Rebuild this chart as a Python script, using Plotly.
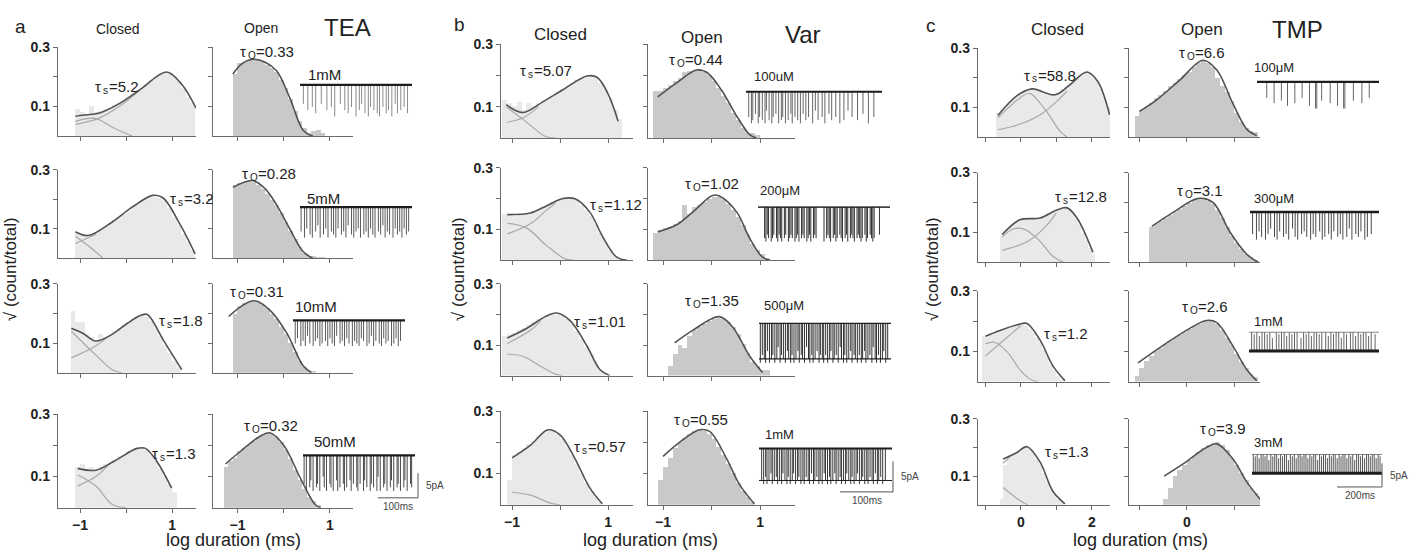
import plotly.graph_objects as go

# ============================ DATA ============================
BIN = 0.1  # histogram bin width (log10 ms)

# ---------- Panel a : TEA ----------
TEA_CONC = ["1mM", "5mM", "10mM", "50mM"]
TEA_TAU_S = ["5.2", "3.2", "1.8", "1.3"]
TEA_TAU_O = ["0.33", "0.28", "0.31", "0.32"]

TEA1_C_START = -1.1
TEA1_C_BARS = [0.09, 0.08, 0.075, 0.1, 0.08, 0.085, 0.09, 0.095, 0.105, 0.11, 0.12, 0.13, 0.14, 0.15, 0.16, 0.175,
               0.19, 0.2, 0.21, 0.215, 0.21, 0.2, 0.185, 0.16, 0.13, 0.11]
TEA1_C_FIT_X = [-1.1, -1.0, -0.6, -0.15, 0.3, 0.88, 1.2, 1.52]
TEA1_C_FIT_Y = [0.067, 0.07, 0.077, 0.11, 0.157, 0.217, 0.177, 0.095]
TEA1_C_FAST_X = [-1.1, -0.67, -0.3, 0.13]
TEA1_C_FAST_Y = [0.05, 0.06, 0.03, 0.0]
TEA1_C_SLOW_X = [-1.1, -0.6, -0.15, 0.3]
TEA1_C_SLOW_Y = [0.04, 0.06, 0.1, 0.155]
TEA1_O_START = -1.1
TEA1_O_BARS = [0.21, 0.245, 0.25, 0.255, 0.26, 0.255, 0.25, 0.24, 0.23, 0.215, 0.19, 0.16, 0.125, 0.085, 0.05, 0.025,
               0.01, 0.015, 0.02, 0.01]
TEA1_O_FIT_X = [-1.1, -0.9, -0.67, -0.4, -0.15, 0.13, 0.42, 0.63]
TEA1_O_FIT_Y = [0.21, 0.245, 0.26, 0.25, 0.22, 0.13, 0.02, 0.0]

TEA2_C_START = -1.1
TEA2_C_BARS = [0.09, 0.08, 0.075, 0.08, 0.09, 0.1, 0.11, 0.12, 0.13, 0.14, 0.15, 0.16, 0.175, 0.185, 0.195, 0.205,
               0.21, 0.21, 0.205, 0.195, 0.17, 0.14, 0.115, 0.085, 0.055, 0.03]
TEA2_C_FIT_X = [-1.1, -0.82, -0.3, 0.13, 0.58, 0.8, 1.18, 1.5]
TEA2_C_FIT_Y = [0.09, 0.077, 0.123, 0.173, 0.213, 0.205, 0.113, 0.015]
TEA2_C_FAST_X = [-1.1, -0.8, -0.5]
TEA2_C_FAST_Y = [0.075, 0.04, 0.0]
TEA2_C_SLOW_X = [-1.1, -0.85, -0.65]
TEA2_C_SLOW_Y = [0.05, 0.068, 0.082]
TEA2_O_START = -1.1
TEA2_O_BARS = [0.25, 0.255, 0.26, 0.265, 0.26, 0.25, 0.235, 0.22, 0.2, 0.18, 0.155, 0.125, 0.095, 0.065, 0.04, 0.02,
               0.01, 0.01, 0.005, 0.005]
TEA2_O_FIT_X = [-1.1, -0.67, -0.4, -0.15, 0.13, 0.42, 0.63]
TEA2_O_FIT_Y = [0.24, 0.263, 0.235, 0.18, 0.1, 0.023, 0.0]

TEA3_C_START = -1.2
TEA3_C_BARS = [0.21, 0.17, 0.17, 0.13, 0.12, 0.11, 0.13, 0.12, 0.13, 0.14, 0.15, 0.16, 0.17, 0.18, 0.19, 0.195, 0.19,
               0.175, 0.15, 0.125, 0.095, 0.065, 0.04, 0.02]
TEA3_C_FIT_X = [-1.19, -0.94, -0.66, -0.33, 0.03, 0.31, 0.46, 0.81, 1.21]
TEA3_C_FIT_Y = [0.15, 0.133, 0.107, 0.127, 0.167, 0.193, 0.197, 0.11, 0.01]
TEA3_C_FAST_X = [-1.19, -0.66, -0.3, -0.1]
TEA3_C_FAST_Y = [0.14, 0.06, 0.01, 0.0]
TEA3_C_SLOW_X = [-1.19, -0.66, -0.45]
TEA3_C_SLOW_Y = [0.05, 0.09, 0.115]
TEA3_O_START = -1.1
TEA3_O_BARS = [0.2, 0.225, 0.235, 0.24, 0.24, 0.24, 0.23, 0.22, 0.2, 0.18, 0.155, 0.13, 0.1, 0.07, 0.04, 0.02, 0.01,
               0.005]
TEA3_O_FIT_X = [-1.19, -0.65, -0.29, 0.07, 0.42, 0.6]
TEA3_O_FIT_Y = [0.19, 0.243, 0.21, 0.133, 0.023, 0.0]

TEA4_C_START = -1.1
TEA4_C_BARS = [0.13, 0.14, 0.125, 0.13, 0.12, 0.13, 0.14, 0.145, 0.155, 0.165, 0.17, 0.18, 0.185, 0.19, 0.19, 0.185,
               0.17, 0.15, 0.125, 0.1, 0.075, 0.05]
TEA4_C_FIT_X = [-1.05, -0.66, -0.27, 0.24, 0.42, 0.67, 0.99]
TEA4_C_FIT_Y = [0.126, 0.12, 0.148, 0.19, 0.19, 0.148, 0.063]
TEA4_C_FAST_X = [-1.05, -0.66, -0.3, 0.0]
TEA4_C_FAST_Y = [0.105, 0.07, 0.01, 0.0]
TEA4_C_SLOW_X = [-1.05, -0.66, -0.4]
TEA4_C_SLOW_Y = [0.07, 0.1, 0.135]
TEA4_O_START = -1.3
TEA4_O_BARS = [0.13, 0.15, 0.16, 0.18, 0.19, 0.2, 0.215, 0.225, 0.235, 0.24, 0.235, 0.225, 0.21, 0.185, 0.155, 0.12,
               0.09, 0.06, 0.035, 0.02, 0.01]
TEA4_O_FIT_X = [-1.26, -0.94, -0.55, -0.3, 0.0, 0.36, 0.68, 0.8]
TEA4_O_FIT_Y = [0.14, 0.18, 0.225, 0.24, 0.2, 0.095, 0.01, 0.0]

# ---------- Panel b : Var ----------
VAR_CONC = ["100uM", "200μM", "500μM", "1mM"]
VAR_TAU_S = ["5.07", "1.12", "1.01", "0.57"]
VAR_TAU_O = ["0.44", "1.02", "1.35", "0.55"]

VAR1_C_START = -1.2
VAR1_C_BARS = [0.12, 0.11, 0.1, 0.115, 0.09, 0.11, 0.1, 0.11, 0.12, 0.125, 0.135, 0.145, 0.155, 0.165, 0.175, 0.185,
               0.19, 0.195, 0.195, 0.19, 0.175, 0.155, 0.125, 0.09, 0.06]
VAR1_C_FIT_X = [-1.12, -0.77, -0.35, 0.06, 0.56, 0.77, 1.0, 1.21]
VAR1_C_FIT_Y = [0.107, 0.082, 0.117, 0.155, 0.199, 0.195, 0.142, 0.054]
VAR1_C_FAST_X = [-1.12, -0.77, -0.3, -0.1]
VAR1_C_FAST_Y = [0.1, 0.06, 0.005, 0.0]
VAR1_C_SLOW_X = [-1.12, -0.77, -0.45]
VAR1_C_SLOW_Y = [0.05, 0.065, 0.1]
VAR1_O_START = -1.2
VAR1_O_BARS = [0.15, 0.15, 0.16, 0.17, 0.18, 0.19, 0.21, 0.215, 0.215, 0.22, 0.21, 0.2, 0.18, 0.16, 0.135, 0.11, 0.08,
               0.055, 0.03, 0.015, 0.015, 0.01]
VAR1_O_FIT_X = [-1.11, -0.72, -0.31, -0.1, 0.2, 0.52, 0.78, 0.92]
VAR1_O_FIT_Y = [0.132, 0.177, 0.218, 0.211, 0.155, 0.07, 0.012, 0.0]

VAR2_C_START = -1.2
VAR2_C_BARS = [0.15, 0.15, 0.145, 0.15, 0.15, 0.155, 0.16, 0.165, 0.175, 0.18, 0.19, 0.195, 0.2, 0.2, 0.2, 0.195,
               0.18, 0.165, 0.145, 0.12, 0.09, 0.06, 0.035, 0.015]
VAR2_C_FIT_X = [-1.1, -0.62, -0.35, 0.06, 0.31, 0.62, 0.9, 1.18, 1.4]
VAR2_C_FIT_Y = [0.148, 0.153, 0.171, 0.2, 0.199, 0.156, 0.073, 0.01, 0.0]
VAR2_C_FAST_X = [-1.1, -0.7, -0.3, 0.1, 0.3]
VAR2_C_FAST_Y = [0.12, 0.105, 0.05, 0.005, 0.0]
VAR2_C_SLOW_X = [-1.1, -0.6, -0.3, -0.1]
VAR2_C_SLOW_Y = [0.085, 0.12, 0.16, 0.185]
VAR2_O_START = -1.2
VAR2_O_BARS = [0.09, 0.1, 0.105, 0.11, 0.12, 0.13, 0.18, 0.15, 0.175, 0.18, 0.19, 0.2, 0.205, 0.205, 0.2, 0.185,
               0.165, 0.14, 0.115, 0.085, 0.055, 0.035, 0.02, 0.01]
VAR2_O_FIT_X = [-1.11, -0.72, -0.39, 0.02, 0.16, 0.52, 0.78, 1.05, 1.2]
VAR2_O_FIT_Y = [0.092, 0.115, 0.156, 0.21, 0.208, 0.156, 0.073, 0.01, 0.0]

VAR3_C_START = -1.2
VAR3_C_BARS = [0.13, 0.135, 0.14, 0.15, 0.155, 0.165, 0.175, 0.185, 0.19, 0.2, 0.2, 0.2, 0.195, 0.185, 0.17, 0.145,
               0.12, 0.095, 0.07, 0.04, 0.02, 0.01]
VAR3_C_FIT_X = [-1.1, -0.69, -0.31, -0.07, 0.21, 0.56, 0.83, 1.04]
VAR3_C_FIT_Y = [0.123, 0.155, 0.193, 0.205, 0.18, 0.097, 0.02, 0.0]
VAR3_C_FAST_X = [-1.1, -0.8, -0.4, -0.1, 0.05]
VAR3_C_FAST_Y = [0.07, 0.065, 0.03, 0.005, 0.0]
VAR3_C_SLOW_X = [-1.1, -0.6, -0.4]
VAR3_C_SLOW_Y = [0.105, 0.15, 0.18]
VAR3_O_START = -0.9
VAR3_O_BARS = [0.03, 0.07, 0.1, 0.09, 0.13, 0.15, 0.16, 0.17, 0.18, 0.185, 0.19, 0.185, 0.175, 0.16, 0.135, 0.105,
               0.075, 0.045, 0.03, 0.02, 0.02]
VAR3_O_FIT_X = [-0.76, -0.39, 0.16, 0.43, 0.78, 1.05]
VAR3_O_FIT_Y = [0.107, 0.148, 0.193, 0.16, 0.065, 0.01]

VAR4_C_START = -1.1
VAR4_C_BARS = [0.08, 0.16, 0.17, 0.18, 0.195, 0.205, 0.22, 0.23, 0.235, 0.235, 0.225, 0.21, 0.185, 0.16, 0.13, 0.1,
               0.07, 0.045, 0.025, 0.01]
VAR4_C_FIT_X = [-1.0, -0.62, -0.25, 0.0, 0.31, 0.62, 0.88]
VAR4_C_FIT_Y = [0.15, 0.19, 0.24, 0.224, 0.148, 0.054, 0.003]
VAR4_C_FAST_X = [-1.0, -0.6, -0.2, 0.0]
VAR4_C_FAST_Y = [0.04, 0.03, 0.005, 0.0]
VAR4_O_START = -1.1
VAR4_O_BARS = [0.08, 0.12, 0.15, 0.18, 0.2, 0.215, 0.225, 0.235, 0.24, 0.235, 0.225, 0.21, 0.185, 0.16, 0.13, 0.1,
               0.07, 0.045, 0.025, 0.01]
VAR4_O_FIT_X = [-1.0, -0.66, -0.25, -0.04, 0.31, 0.57, 0.88]
VAR4_O_FIT_Y = [0.155, 0.2, 0.24, 0.235, 0.148, 0.066, 0.003]

# ---------- Panel c : TMP ----------
TMP_CONC = ["100μM", "300μM", "1mM", "3mM"]
TMP_TAU_S = ["58.8", "12.8", "1.2", "1.3"]
TMP_TAU_O = ["6.6", "3.1", "2.6", "3.9"]

TMP1_C_START = -0.7
TMP1_C_BARS = [0.08, 0.09, 0.1, 0.11, 0.125, 0.135, 0.145, 0.15, 0.155, 0.16, 0.16, 0.155, 0.15, 0.145, 0.14, 0.14,
               0.145, 0.15, 0.16, 0.17, 0.18, 0.19, 0.2, 0.21, 0.215, 0.22, 0.215, 0.205, 0.19, 0.16, 0.13, 0.1]
TMP1_C_FIT_X = [-0.65, -0.11, 0.31, 0.96, 1.38, 1.86, 2.17, 2.5]
TMP1_C_FIT_Y = [0.073, 0.14, 0.163, 0.143, 0.177, 0.22, 0.187, 0.075]
TMP1_C_FAST_X = [-0.65, 0.0, 0.25, 0.7, 1.1, 1.3]
TMP1_C_FAST_Y = [0.065, 0.135, 0.148, 0.09, 0.02, 0.0]
TMP1_C_SLOW_X = [-0.65, 0.0, 0.6, 1.0, 1.3]
TMP1_C_SLOW_Y = [0.025, 0.045, 0.08, 0.12, 0.155]
TMP1_O_START = -1.1
TMP1_O_BARS = [0.07, 0.09, 0.1, 0.115, 0.13, 0.14, 0.155, 0.17, 0.18, 0.195, 0.21, 0.22, 0.235, 0.25, 0.255, 0.25,
               0.235, 0.2, 0.17, 0.15, 0.12, 0.08, 0.05, 0.03, 0.02, 0.015]
TMP1_O_FIT_X = [-1.0, -0.63, -0.15, 0.34, 0.63, 0.97, 1.26, 1.47]
TMP1_O_FIT_Y = [0.087, 0.127, 0.193, 0.26, 0.227, 0.113, 0.027, 0.005]

TMP2_C_START = -0.6
TMP2_C_BARS = [0.09, 0.105, 0.115, 0.125, 0.135, 0.14, 0.145, 0.145, 0.145, 0.145, 0.145, 0.15, 0.155, 0.16, 0.165,
               0.17, 0.175, 0.18, 0.18, 0.175, 0.165, 0.15, 0.13, 0.1, 0.075, 0.05, 0.03]
TMP2_C_FIT_X = [-0.53, -0.03, 0.54, 1.01, 1.3, 1.58, 2.03]
TMP2_C_FIT_Y = [0.092, 0.142, 0.148, 0.175, 0.182, 0.148, 0.033]
TMP2_C_FAST_X = [-0.53, -0.2, 0.1, 0.5, 0.9, 1.2]
TMP2_C_FAST_Y = [0.085, 0.112, 0.11, 0.075, 0.02, 0.0]
TMP2_C_SLOW_X = [-0.53, 0.2, 0.7, 1.0]
TMP2_C_SLOW_Y = [0.04, 0.07, 0.12, 0.165]
TMP2_O_START = -0.8
TMP2_O_BARS = [0.12, 0.13, 0.14, 0.15, 0.16, 0.17, 0.18, 0.19, 0.2, 0.21, 0.21, 0.21, 0.205, 0.195, 0.175, 0.15, 0.12,
               0.09, 0.065, 0.045, 0.03, 0.02, 0.01]
TMP2_O_FIT_X = [-0.74, -0.29, 0.23, 0.55, 0.9, 1.26, 1.5]
TMP2_O_FIT_Y = [0.12, 0.167, 0.213, 0.2, 0.103, 0.027, 0.0]

TMP3_C_START = -1.1
TMP3_C_BARS = [0.15, 0.155, 0.16, 0.165, 0.17, 0.17, 0.175, 0.18, 0.185, 0.19, 0.19, 0.19, 0.185, 0.175, 0.16, 0.145,
               0.13, 0.105, 0.08, 0.055, 0.035, 0.02, 0.01]
TMP3_C_FIT_X = [-1.0, -0.59, -0.03, 0.17, 0.54, 0.9, 1.24]
TMP3_C_FIT_Y = [0.15, 0.169, 0.19, 0.192, 0.137, 0.052, 0.003]
TMP3_C_FAST_X = [-1.0, -0.75, -0.4, 0.0, 0.3, 0.5]
TMP3_C_FAST_Y = [0.125, 0.13, 0.1, 0.035, 0.005, 0.0]
TMP3_C_SLOW_X = [-1.0, -0.6, -0.2, 0.0]
TMP3_C_SLOW_Y = [0.085, 0.125, 0.165, 0.185]
TMP3_O_START = -1.1
TMP3_O_BARS = [0.02, 0.045, 0.07, 0.085, 0.1, 0.11, 0.125, 0.135, 0.145, 0.155, 0.165, 0.175, 0.185, 0.19, 0.2, 0.2,
               0.2, 0.19, 0.17, 0.145, 0.12, 0.09, 0.065, 0.045, 0.025, 0.015]
TMP3_O_FIT_X = [-1.03, -0.43, 0.06, 0.41, 0.63, 0.97, 1.26, 1.47]
TMP3_O_FIT_Y = [0.062, 0.127, 0.176, 0.202, 0.195, 0.117, 0.04, 0.003]

TMP4_C_START = -0.6
TMP4_C_BARS = [0.02, 0.14, 0.165, 0.175, 0.18, 0.19, 0.2, 0.2, 0.195, 0.18, 0.16, 0.14, 0.11, 0.08, 0.055, 0.035,
               0.02, 0.01]
TMP4_C_FIT_X = [-0.5, -0.11, 0.17, 0.54, 0.9, 1.24]
TMP4_C_FIT_Y = [0.16, 0.183, 0.203, 0.149, 0.047, 0.003]
TMP4_C_FAST_X = [-0.5, -0.2, 0.1, 0.2]
TMP4_C_FAST_Y = [0.06, 0.03, 0.005, 0.0]
TMP4_C_SLOW_X = [-0.5, -0.3]
TMP4_C_SLOW_Y = [0.145, 0.17]
TMP4_O_START = -0.5
TMP4_O_BARS = [0.02, 0.06, 0.1, 0.12, 0.14, 0.155, 0.17, 0.185, 0.2, 0.21, 0.215, 0.22, 0.21, 0.19, 0.165, 0.14, 0.11,
               0.085, 0.06, 0.04, 0.025]
TMP4_O_FIT_X = [-0.48, -0.08, 0.41, 0.63, 0.97, 1.26, 1.54]
TMP4_O_FIT_Y = [0.1, 0.143, 0.2, 0.213, 0.16, 0.08, 0.02]

# ---------- single-channel records: event times (% of record) and level reached (0 = top, 10 = bottom) ----------
TEA1_EV_T = [3, 7, 11, 14, 19, 24, 28, 31, 36, 40, 43, 46, 50, 53, 55, 58, 61, 63, 66, 69, 71, 74, 77, 79, 82, 85, 87,
             90, 93, 96]
TEA1_EV_L = [6, 8, 7, 9, 6, 8, 7, 10, 6, 8, 9, 7, 10, 8, 6, 9, 10, 7, 8, 9, 10, 7, 9, 8, 10, 6, 9, 8, 7, 9]
TEA2_EV_T = [1, 4, 6, 9, 11, 14, 16, 18, 21, 23, 25, 28, 30, 32, 34, 37, 39, 41, 43, 46, 48, 50, 52, 54, 57, 59, 61,
             63, 65, 67, 70, 72, 74, 76, 78, 80, 83, 85, 87, 89, 91, 93, 95, 97]
TEA2_EV_L = [8, 10, 7, 9, 10, 8, 6, 10, 9, 7, 10, 8, 9, 10, 7, 9, 8, 10, 6, 9, 10, 8, 7, 10, 9, 8, 10, 7, 9, 10, 8, 9,
             6, 10, 8, 9, 10, 7, 9, 8, 10, 7, 9, 8]
TEA3_EV_T = [2, 4, 7, 9, 11, 13, 15, 18, 20, 22, 24, 26, 29, 31, 33, 35, 37, 39, 42, 44, 46, 48, 50, 53, 55, 57, 59,
             61, 63, 66, 68, 70, 72, 74, 77, 79, 81, 83, 85, 88, 90, 92, 94, 96]
TEA3_EV_L = [9, 7, 10, 8, 10, 6, 9, 10, 8, 7, 10, 9, 8, 10, 7, 9, 10, 6, 9, 8, 10, 7, 9, 10, 8, 9, 10, 7, 8, 10, 9, 6,
             10, 8, 9, 10, 7, 9, 8, 10, 9, 7, 10, 8]
TEA4_EV_T = [1, 3, 6, 7, 9, 12, 13, 15, 18, 19, 21, 24, 25, 27, 30, 31, 33, 36, 37, 39, 42, 43, 45, 48, 49, 51, 54,
             55, 57, 60, 61, 63, 66, 67, 69, 72, 73, 75, 78, 79, 81, 84, 85, 87, 90, 91, 93, 96, 97]
TEA4_EV_L = [8, 10, 9, 7, 10, 9, 8, 10, 6, 9, 10, 8, 9, 10, 7, 10, 9, 8, 10, 9, 7, 10, 8, 9, 10, 8, 10, 7, 9, 10, 8,
             9, 10, 6, 10, 9, 8, 10, 9, 7, 10, 9, 8, 10, 9, 7, 10, 8, 9]
VAR1_EV_T = [2, 4, 5, 7, 9, 10, 12, 14, 15, 17, 19, 20, 22, 24, 26, 27, 29, 31, 33, 34, 36, 38, 40, 42, 44, 46, 49,
             51, 53, 56, 58, 61, 63, 66, 69, 72, 75, 78, 82, 86, 90, 94]
VAR1_EV_L = [8, 10, 9, 7, 10, 8, 9, 10, 6, 9, 10, 8, 7, 10, 9, 8, 10, 9, 7, 10, 8, 9, 10, 7, 9, 8, 10, 6, 9, 8, 10, 7,
             9, 8, 10, 9, 6, 8, 9, 7, 10, 8]
VAR2_EV_T = [5, 6, 7, 8, 10, 11, 12, 14, 15, 16, 17, 18, 20, 21, 23, 24, 25, 26, 28, 29, 30, 31, 33, 34, 35, 37, 38,
             39, 40, 42, 43, 44, 50, 52, 53, 54, 55, 57, 58, 59, 60, 62, 63, 64, 66, 67, 68, 70, 71, 72, 73, 75, 76,
             77, 78, 79, 81, 82, 83, 85, 86, 87, 88, 92]
VAR2_EV_L = [9, 10, 8, 9, 10, 9, 8, 9, 10, 8, 9, 10, 9, 8, 10, 9, 8, 9, 10, 9, 8, 10, 9, 8, 9, 10, 9, 8, 10, 9, 8, 9,
             10, 9, 8, 9, 10, 9, 8, 10, 9, 8, 9, 10, 9, 8, 10, 9, 8, 9, 10, 9, 8, 9, 10, 9, 8, 10, 9, 8, 9, 10, 9, 8]
VAR3_EV_T = [1, 2.5, 4, 5, 6.5, 8, 9.5, 10.5, 12, 13.5, 14.5, 16, 17, 18.5, 20, 21.5, 22.5, 24, 25, 26.5, 28, 29.5,
             30.5, 32, 33, 34.5, 36, 37.5, 38.5, 40, 41, 42.5, 44, 45.5, 46.5, 48, 49, 50.5, 52, 53.5, 54.5, 56, 57,
             58.5, 60, 61.5, 62.5, 64, 65, 66.5, 68, 69.5, 70.5, 72, 73, 74.5, 76, 77.5, 78.5, 80, 81, 82.5, 84, 85.5,
             86.5, 88, 89, 90.5, 92, 93.5, 94.5, 96, 97.5]
VAR3_EV_L = [10, 8, 9, 10, 7, 10, 9, 8, 10, 9, 6, 10, 8, 9, 10, 7, 9, 10, 8, 10, 9, 7, 10, 8, 9, 10, 6, 9, 10, 8, 10,
             9, 7, 10, 8, 9, 10, 8, 10, 9, 7, 10, 9, 8, 10, 6, 9, 10, 8, 10, 9, 7, 10, 8, 9, 10, 8, 10, 9, 7, 10, 9, 8,
             10, 6, 9, 10, 8, 10, 9, 7, 10, 9]
VAR4_EV_T = [2, 3.5, 5, 6, 7.5, 9, 10, 11.5, 13, 14, 15.5, 17, 18, 19.5, 21, 22, 23.5, 25, 26, 27.5, 29, 30, 31.5, 33,
             34, 35.5, 37, 38, 39.5, 41, 42, 43.5, 45, 46, 47.5, 49, 50, 51.5, 53, 54, 55.5, 57, 58, 59.5, 61, 62,
             63.5, 65, 66, 67.5, 69, 70, 71.5, 73, 74, 75.5, 77, 78, 79.5, 81, 82, 83.5, 85, 86, 87.5, 89, 90, 91.5,
             93, 95]
VAR4_EV_L = [9, 10, 8, 10, 9, 7, 10, 9, 8, 10, 9, 10, 7, 9, 10, 8, 10, 9, 7, 10, 9, 8, 10, 9, 10, 8, 9, 10, 7, 10, 9,
             8, 10, 9, 10, 7, 9, 10, 8, 10, 9, 7, 10, 9, 8, 10, 9, 10, 7, 9, 10, 8, 10, 9, 7, 10, 9, 8, 10, 9, 10, 8,
             9, 10, 7, 10, 9, 8, 10, 9]
TMP1_EV_T = [8, 14, 20, 25, 31, 37, 43, 48, 49, 53, 60, 66, 71, 72, 79, 86, 92]
TMP1_EV_L = [6, 8, 7, 9, 8, 6, 9, 10, 10, 7, 8, 9, 10, 10, 7, 8, 6]
TMP2_EV_T = [2, 5, 7, 9, 12, 14, 16, 19, 21, 23, 26, 28, 30, 33, 35, 37, 40, 42, 44, 47, 49, 51, 54, 56, 58, 61, 63,
             65, 68, 70, 72, 75, 77, 79, 82, 84, 86, 89, 91, 94]
TMP2_EV_L = [8, 10, 7, 9, 10, 8, 6, 9, 10, 7, 9, 8, 10, 6, 9, 10, 8, 7, 9, 10, 8, 9, 7, 10, 9, 8, 10, 7, 9, 8, 10, 9,
             6, 10, 8, 9, 7, 10, 9, 8]
TMP3_EV_T = [2, 4, 6, 8, 10, 12, 14, 16, 18, 21, 23, 25, 27, 29, 31, 33, 35, 37, 40, 42, 44, 46, 48, 50, 52, 54, 56,
             59, 61, 63, 65, 67, 69, 71, 73, 75, 78, 80, 82, 84, 86, 88, 90, 92, 94, 97]
TMP3_EV_L = [0, 1, 0, 2, 0, 0, 1, 0, 3, 0, 1, 0, 0, 2, 0, 1, 0, 0, 3, 0, 1, 0, 2, 0, 0, 1, 0, 0, 2, 0, 1, 0, 0, 3, 0,
             1, 0, 0, 2, 0, 1, 0, 0, 2, 0, 1]
TMP4_EV_T = [1, 2.5, 4, 5.5, 7, 8.5, 10, 11.5, 13, 14.5, 16, 17.5, 19, 20.5, 22, 23.5, 25, 26.5, 28, 29.5, 31, 32.5,
             34, 35.5, 37, 38.5, 40, 41.5, 43, 44.5, 46, 47.5, 49, 50.5, 52, 53.5, 55, 56.5, 58, 59.5, 61, 62.5, 64,
             65.5, 67, 68.5, 70, 71.5, 73, 74.5, 76, 77.5, 79, 80.5, 82, 83.5, 85, 86.5, 88, 89.5, 91, 92.5, 94, 95.5,
             97, 98.5]
TMP4_EV_L = [0, 1, 0, 2, 0, 0, 1, 0, 3, 0, 1, 0, 0, 2, 0, 1, 0, 0, 3, 0, 1, 0, 2, 0, 0, 1, 0, 0, 2, 0, 1, 0, 0, 3, 0,
             1, 0, 0, 2, 0, 1, 0, 0, 2, 0, 1, 0, 0, 2, 0, 1, 0, 3, 0, 0, 1, 0, 2, 0, 0, 1, 0, 0, 2, 0, 1]

# ============================ FIGURE ============================
W, H = 1419, 554
FONT = "Liberation Sans, Arial, Helvetica, sans-serif"
AXC = "#6a6a6a"
CLOSED_FILL = "#e9e9e9"
OPEN_FILL = "#c9c9c9"
FIT_C = "#525252"
COMP_C = "#a8a8a8"


def px(x):
    return x / W


def py(y):
    return 1 - y / H


fig = go.Figure()
layout = dict(width=W, height=H, autosize=False, margin=dict(l=0, r=0, t=0, b=0),
              paper_bgcolor="white", plot_bgcolor="rgba(0,0,0,0)", showlegend=False,
              font=dict(family=FONT, color="#222"), bargap=0)
annotations = []
shapes = []
counter = [0]


def new_axes():
    counter[0] += 1
    n = counter[0]
    s = "" if n == 1 else str(n)
    return "x" + s, "y" + s, "xaxis" + s, "yaxis" + s


def add_hist(geo, row_geo, major, minor, show_x, show_y, start, bars, fill, fits):
    x0px, x1px, xr = geo
    ytop, yzero = row_geo
    xa, ya, xk, yk = new_axes()
    common = dict(showline=True, linecolor=AXC, linewidth=1.3, ticks="outside", ticklen=4,
                  tickcolor=AXC, tickwidth=1, showgrid=False, zeroline=False, fixedrange=True,
                  tickfont=dict(size=14, color="#222", family=FONT, weight="bold"))
    layout[xk] = dict(domain=[px(x0px), px(x1px)], range=xr, anchor=ya, tickvals=major,
                      showticklabels=show_x,
                      minor=dict(tickvals=minor, ticks="outside", ticklen=4, tickcolor=AXC, showgrid=False),
                      **common)
    layout[yk] = dict(domain=[py(yzero), py(ytop)], range=[0, 0.3], anchor=xa, tickvals=[0.1, 0.3],
                      showticklabels=show_y,
                      minor=dict(tickvals=[0.2], ticks="outside", ticklen=4, tickcolor=AXC, showgrid=False),
                      **common)
    centers = [start + BIN * (i + 0.5) for i in range(len(bars))]
    fig.add_trace(go.Bar(x=centers, y=bars, width=BIN, marker=dict(color=fill, line=dict(width=0)),
                         xaxis=xa, yaxis=ya, hoverinfo="skip"))
    for fx, fy, col, w in fits:
        fig.add_trace(go.Scatter(x=fx, y=fy, mode="lines", xaxis=xa, yaxis=ya, hoverinfo="skip",
                                 line=dict(color=col, width=w, shape="spline", smoothing=1.0)))


def add_record(x0px, x1px, top_px, bot_px, ev_t, ev_l, base, rails, refline, ev_color):
    xa, ya, xk, yk = new_axes()
    ppu = (bot_px - top_px) / 10.0
    layout[xk] = dict(domain=[px(x0px), px(x1px)], range=[0, 100], visible=False,
                      anchor=ya, fixedrange=True)
    layout[yk] = dict(domain=[py(bot_px + 1.5 * ppu), py(top_px - 1.5 * ppu)], range=[-11.5, 1.5],
                      visible=False, anchor=xa, fixedrange=True)
    if refline:
        fig.add_trace(go.Scatter(x=[0, 100], y=[0, 0], mode="lines", xaxis=xa, yaxis=ya,
                                 line=dict(color="#666", width=0.8), hoverinfo="skip"))
    xs, ys = [], []
    for t, lv in zip(ev_t, ev_l):
        xs += [t, t, None]
        ys += [-base, -lv, None]
    fig.add_trace(go.Scatter(x=xs, y=ys, mode="lines", xaxis=xa, yaxis=ya,
                             line=dict(color=ev_color, width=1), hoverinfo="skip"))
    for lvl, w in rails:
        fig.add_trace(go.Scatter(x=[0, 100], y=[-lvl, -lvl], mode="lines", xaxis=xa, yaxis=ya,
                                 line=dict(color="#1c1c1c", width=w), hoverinfo="skip"))


def ann(text, x, y, size, xanchor="left", yanchor="middle", angle=0, color="#222", weight="normal"):
    annotations.append(dict(text=text, x=px(x), y=py(y), xref="paper", yref="paper", showarrow=False,
                            xanchor=xanchor, yanchor=yanchor, textangle=angle,
                            font=dict(size=size, color=color, family=FONT, weight=weight)))


def tau_label(sub, value, x, y):
    # "τ" + subscript + "=value", composed from three plain texts
    sub_w = 6 if sub == "s" else 8
    ann("τ", x, y, 15)
    ann(sub, x + 8, y + 4, 10)
    ann("=" + value, x + 8 + sub_w, y, 15)


# ---- geometry (pixels) ----
PANELS = {
    "a": dict(closed=(58, 196, [-1.48, 1.52]), open=(213, 353, [-1.53, 1.5]),
              rows=[(40, 130), (164, 254), (280, 370), (412, 507)],
              cticks=([-1, 1], [0]), oticks=([-1, 1], [0])),
    "b": dict(closed=(501, 633, [-1.23, 1.52]), open=(648, 795, [-1.31, 1.72]),
              rows=[(37, 132), (162, 256), (280, 373), (409, 504)],
              cticks=([-1, 1], [0]), oticks=([-1, 1], [0])),
    "c": dict(closed=(978, 1110, [-1.21, 2.51]), open=(1129, 1260, [-1.22, 1.54]),
              rows=[(41, 131), (167, 258), (287, 379), (417, 504)],
              cticks=([0, 2], [-1, 1]), oticks=([0], [-1, 1])),
}

HISTS = {
    "a": [
        (TEA1_C_START, TEA1_C_BARS, [(TEA1_C_FAST_X, TEA1_C_FAST_Y), (TEA1_C_SLOW_X, TEA1_C_SLOW_Y)], (TEA1_C_FIT_X, TEA1_C_FIT_Y),
         TEA1_O_START, TEA1_O_BARS, (TEA1_O_FIT_X, TEA1_O_FIT_Y)),
        (TEA2_C_START, TEA2_C_BARS, [(TEA2_C_FAST_X, TEA2_C_FAST_Y), (TEA2_C_SLOW_X, TEA2_C_SLOW_Y)], (TEA2_C_FIT_X, TEA2_C_FIT_Y),
         TEA2_O_START, TEA2_O_BARS, (TEA2_O_FIT_X, TEA2_O_FIT_Y)),
        (TEA3_C_START, TEA3_C_BARS, [(TEA3_C_FAST_X, TEA3_C_FAST_Y), (TEA3_C_SLOW_X, TEA3_C_SLOW_Y)], (TEA3_C_FIT_X, TEA3_C_FIT_Y),
         TEA3_O_START, TEA3_O_BARS, (TEA3_O_FIT_X, TEA3_O_FIT_Y)),
        (TEA4_C_START, TEA4_C_BARS, [(TEA4_C_FAST_X, TEA4_C_FAST_Y), (TEA4_C_SLOW_X, TEA4_C_SLOW_Y)], (TEA4_C_FIT_X, TEA4_C_FIT_Y),
         TEA4_O_START, TEA4_O_BARS, (TEA4_O_FIT_X, TEA4_O_FIT_Y)),
    ],
    "b": [
        (VAR1_C_START, VAR1_C_BARS, [(VAR1_C_FAST_X, VAR1_C_FAST_Y), (VAR1_C_SLOW_X, VAR1_C_SLOW_Y)], (VAR1_C_FIT_X, VAR1_C_FIT_Y),
         VAR1_O_START, VAR1_O_BARS, (VAR1_O_FIT_X, VAR1_O_FIT_Y)),
        (VAR2_C_START, VAR2_C_BARS, [(VAR2_C_FAST_X, VAR2_C_FAST_Y), (VAR2_C_SLOW_X, VAR2_C_SLOW_Y)], (VAR2_C_FIT_X, VAR2_C_FIT_Y),
         VAR2_O_START, VAR2_O_BARS, (VAR2_O_FIT_X, VAR2_O_FIT_Y)),
        (VAR3_C_START, VAR3_C_BARS, [(VAR3_C_FAST_X, VAR3_C_FAST_Y), (VAR3_C_SLOW_X, VAR3_C_SLOW_Y)], (VAR3_C_FIT_X, VAR3_C_FIT_Y),
         VAR3_O_START, VAR3_O_BARS, (VAR3_O_FIT_X, VAR3_O_FIT_Y)),
        (VAR4_C_START, VAR4_C_BARS, [(VAR4_C_FAST_X, VAR4_C_FAST_Y)], (VAR4_C_FIT_X, VAR4_C_FIT_Y),
         VAR4_O_START, VAR4_O_BARS, (VAR4_O_FIT_X, VAR4_O_FIT_Y)),
    ],
    "c": [
        (TMP1_C_START, TMP1_C_BARS, [(TMP1_C_FAST_X, TMP1_C_FAST_Y), (TMP1_C_SLOW_X, TMP1_C_SLOW_Y)], (TMP1_C_FIT_X, TMP1_C_FIT_Y),
         TMP1_O_START, TMP1_O_BARS, (TMP1_O_FIT_X, TMP1_O_FIT_Y)),
        (TMP2_C_START, TMP2_C_BARS, [(TMP2_C_FAST_X, TMP2_C_FAST_Y), (TMP2_C_SLOW_X, TMP2_C_SLOW_Y)], (TMP2_C_FIT_X, TMP2_C_FIT_Y),
         TMP2_O_START, TMP2_O_BARS, (TMP2_O_FIT_X, TMP2_O_FIT_Y)),
        (TMP3_C_START, TMP3_C_BARS, [(TMP3_C_FAST_X, TMP3_C_FAST_Y), (TMP3_C_SLOW_X, TMP3_C_SLOW_Y)], (TMP3_C_FIT_X, TMP3_C_FIT_Y),
         TMP3_O_START, TMP3_O_BARS, (TMP3_O_FIT_X, TMP3_O_FIT_Y)),
        (TMP4_C_START, TMP4_C_BARS, [(TMP4_C_FAST_X, TMP4_C_FAST_Y), (TMP4_C_SLOW_X, TMP4_C_SLOW_Y)], (TMP4_C_FIT_X, TMP4_C_FIT_Y),
         TMP4_O_START, TMP4_O_BARS, (TMP4_O_FIT_X, TMP4_O_FIT_Y)),
    ],
}

for key, P in PANELS.items():
    for r, (cs, cb, comps, cfit, os_, ob, ofit) in enumerate(HISTS[key]):
        last = r == 3
        fits_c = [(fx, fy, COMP_C, 1.2) for fx, fy in comps] + [(cfit[0], cfit[1], FIT_C, 1.6)]
        add_hist(P["closed"], P["rows"][r], P["cticks"][0], P["cticks"][1], last, True,
                 cs, cb, CLOSED_FILL, fits_c)
        add_hist(P["open"], P["rows"][r], P["oticks"][0], P["oticks"][1], last, False,
                 os_, ob, OPEN_FILL, [(ofit[0], ofit[1], FIT_C, 1.6)])

# ---- single-channel records: (x0, x1, top px, bottom px, times, levels, base level, rails, refline, colour)
REC_GEO = [
    (300, 412, 78, 110, TEA1_EV_T, TEA1_EV_L, 0, [(0, 2.2)], False, "#8a8a8a"),
    (300, 412, 202, 233, TEA2_EV_T, TEA2_EV_L, 0, [(0, 2.2)], False, "#5a5a5a"),
    (293, 405, 317, 343, TEA3_EV_T, TEA3_EV_L, 0, [(0, 2.2)], False, "#5a5a5a"),
    (303, 415, 454, 490, TEA4_EV_T, TEA4_EV_L, 0, [(0, 2.2)], False, "#4a4a4a"),
    (746, 882, 85, 117, VAR1_EV_T, VAR1_EV_L, 0, [(0, 2.0)], False, "#666666"),
    (758, 890, 202, 237, VAR2_EV_T, VAR2_EV_L, 0, [(0, 1.4)], True, "#333333"),
    (759, 891, 320, 360, VAR3_EV_T, VAR3_EV_L, 0, [(0, 1.4), (9, 1.2)], False, "#333333"),
    (759, 892, 447, 483, VAR4_EV_T, VAR4_EV_L, 0, [(0, 2.0), (9, 1.0)], False, "#3a3a3a"),
    (1257, 1379, 75, 102, TMP1_EV_T, TMP1_EV_L, 0, [(0, 2.4)], False, "#666666"),
    (1250, 1379, 207, 235, TMP2_EV_T, TMP2_EV_L, 0, [(0, 2.4)], False, "#4a4a4a"),
    (1249, 1379, 329, 348, TMP3_EV_T, TMP3_EV_L, 10, [(10, 3.0)], True, "#666666"),
    (1252, 1382, 453, 472, TMP4_EV_T, TMP4_EV_L, 10, [(10, 3.0)], True, "#555555"),
]
for g in REC_GEO:
    add_record(*g)

# ---- text ----
ann("a", 13, 19, 19)
ann("b", 452, 17, 19)
ann("c", 924, 18, 19)
ann("Closed", 118, 21, 14, xanchor="center")
ann("Open", 261, 20, 14, xanchor="center")
ann("TEA", 347, 20, 24, xanchor="center")
ann("Closed", 560, 27, 17, xanchor="center")
ann("Open", 702, 30, 17, xanchor="center")
ann("Var", 803, 27, 24, xanchor="center")
ann("Closed", 1057, 22, 17, xanchor="center")
ann("Open", 1202, 22, 17, xanchor="center")
ann("TMP", 1297, 22, 24, xanchor="center")

for xc in (10, 458, 932):
    ann("√ (count/total)", xc, 265, 17, xanchor="center", angle=-90)
for xc in (233, 650, 1140):
    ann("log duration (ms)", xc, 540, 18, xanchor="center")

TAU_S_POS = {"a": [(93, 80), (168, 193), (157, 317), (150, 452)],
             "b": [(518, 63), (588, 199), (572, 318), (572, 445)],
             "c": [(1022, 68), (1053, 191), (1042, 330), (1043, 450)]}
TAU_O_POS = {"a": [(238, 44), (240, 168), (228, 288), (242, 424)],
             "b": [(667, 52), (683, 178), (683, 297), (672, 418)],
             "c": [(1177, 45), (1175, 185), (1180, 303), (1198, 427)]}
CONC_POS = {"a": [(306, 67), (305, 193), (293, 303), (312, 440)],
            "b": [(752, 70), (758, 185), (762, 302), (763, 433)],
            "c": [(1252, 60), (1252, 193), (1252, 318), (1252, 441)]}
CONC_SIZE = {"a": 15, "b": 13, "c": 13}
TAU_S = {"a": TEA_TAU_S, "b": VAR_TAU_S, "c": TMP_TAU_S}
TAU_O = {"a": TEA_TAU_O, "b": VAR_TAU_O, "c": TMP_TAU_O}
CONC = {"a": TEA_CONC, "b": VAR_CONC, "c": TMP_CONC}
for key in ("a", "b", "c"):
    for r in range(4):
        x, y = TAU_S_POS[key][r]
        tau_label("s", TAU_S[key][r], x, y)
        x, y = TAU_O_POS[key][r]
        tau_label("O", TAU_O[key][r], x, y)
        x, y = CONC_POS[key][r]
        ann(CONC[key][r], x, y, CONC_SIZE[key])

# ---- scale bars ----
SCALE = [(418, 472, 497, 378, "100ms"), (893, 460, 491, 840, "100ms"), (1382, 462, 486, 1337, "200ms")]
for xv, yt, yb, xl, lab in SCALE:
    shapes.append(dict(type="line", xref="paper", yref="paper", x0=px(xv), x1=px(xv), y0=py(yt), y1=py(yb),
                       line=dict(color="#555", width=1)))
    shapes.append(dict(type="line", xref="paper", yref="paper", x0=px(xl), x1=px(xv), y0=py(yb), y1=py(yb),
                       line=dict(color="#555", width=1)))
    ann("5pA", xv + 6, (yt + yb) / 2, 10, color="#444")
    ann(lab, (xl + xv) / 2, yb + 9, 10, xanchor="center", color="#444")

layout["annotations"] = annotations
layout["shapes"] = shapes
fig.update_layout(**layout)
fig.write_html("out.html", config={"displayModeBar": False},
               post_script="document.body.style.margin='0px';")
